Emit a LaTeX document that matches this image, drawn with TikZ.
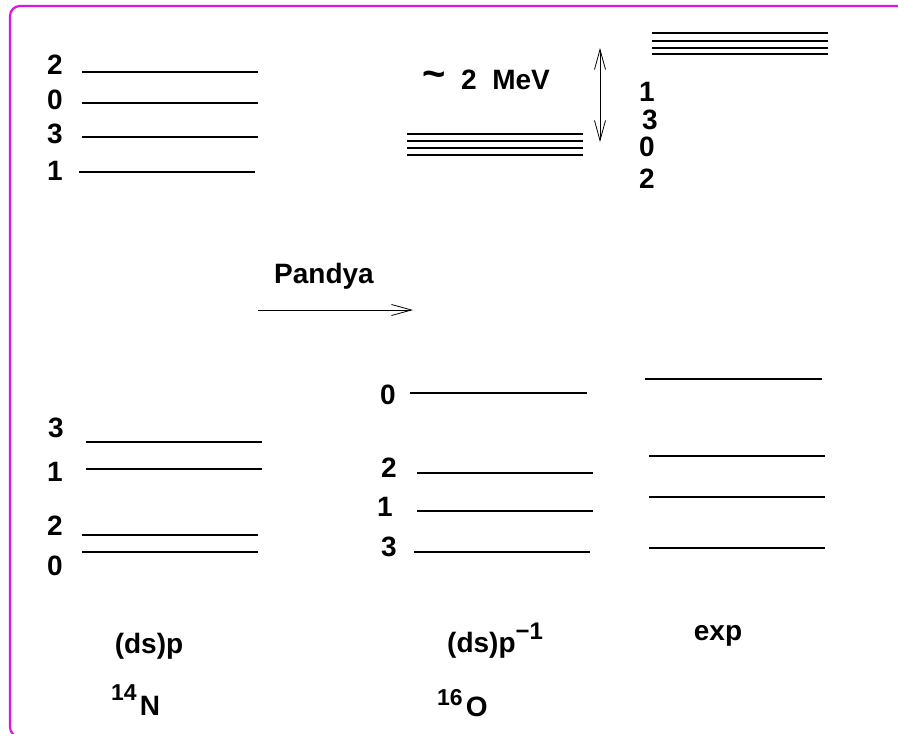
\documentclass[tikz,border=0pt]{standalone}
\usepackage{fontspec}
\setmainfont{Liberation Sans}
\usetikzlibrary{arrows.meta}
\definecolor{framemag}{RGB}{224,20,224}
\begin{document}
\begin{tikzpicture}[x=1pt,y=-1pt,
  lvl/.style={line width=2pt},
  lab/.style={inner sep=0pt, font=\fontsize{28}{32}\selectfont\bfseries},
  suplab/.style={font=\fontsize{23}{23}\selectfont\bfseries},
  barb/.tip={Straight Barb[length=20pt,width=11pt,line width=0.8pt]},
  thinarrow/.style={line width=0.8pt}]
\useasboundingbox (0,0) rectangle (898,734);
\clip (0,0) rectangle (898,734);
\draw[framemag, line width=2.2pt, rounded corners=10pt] (10,6) rectangle (930,737);

% top-left group
\foreach \y/\a/\b in {72/82/258, 103/82/258, 137/82/258, 172/79/255}
  \draw[lvl] (\a,\y) -- (\b,\y);
\node[lab] (tl2) at (55,65) {2};
\node[lab] (tl0) at (55,100) {0};
\node[lab] (tl3) at (55,134) {3};
\node[lab] (tl1) at (55,171) {1};

% top-middle group
\foreach \y in {134,141,148,155}
  \draw[lvl] (407,\y) -- (583,\y);

% top-right group
\foreach \y in {33.3,40.7,47.7,54.3}
  \draw[lvl] (652,\y) -- (828,\y);
\node[lab] (tr1) at (647,92) {1};
\node[lab] (tr3) at (650,120) {3};
\node[lab] (tr0) at (647,147) {0};
\node[lab] (tr2) at (647,179) {2};

% energy gap arrow
\coordinate (gapTop) at (600,48);
\coordinate (gapBot) at (600,142);
\draw[thinarrow, barb-barb] (gapBot) -- (gapTop);
\node[inner sep=0pt, anchor=base, font=\fontsize{40}{40}\selectfont\bfseries] (tilde) at (434,87) {\char"7E};
\node[lab, anchor=base west] (mev) at (461,89) {2\ \ MeV};

% Pandya arrow
\node[lab, anchor=base] (pandya) at (324,283) {Pandya};
\coordinate (pStart) at (258,310);
\coordinate (pEnd) at (413,310);
\draw[thinarrow, -barb] (pStart) -- (pEnd);

% bottom-left group
\foreach \y/\a/\b in {442/86/262, 469/86/262, 535/82/258, 552/82/258}
  \draw[lvl] (\a,\y) -- (\b,\y);
\node[lab] (bl3) at (56,428) {3};
\node[lab] (bl1) at (55,472) {1};
\node[lab] (bl2) at (55,526) {2};
\node[lab] (bl0) at (55,566) {0};

% bottom-middle group
\foreach \y/\a/\b in {393/410/587, 473/417/593, 511/417/593, 552/414/590}
  \draw[lvl] (\a,\y) -- (\b,\y);
\node[lab] (bm0) at (388,395) {0};
\node[lab] (bm2) at (389,468) {2};
\node[lab] (bm1) at (385,507) {1};
\node[lab] (bm3) at (389,547) {3};

% bottom-right group (exp)
\foreach \y/\a/\b in {379/645/822, 456/649/825, 497/649/825, 548/649/825}
  \draw[lvl] (\a,\y) -- (\b,\y);

% captions
\node[lab, anchor=base] (dsp) at (149,653) {(ds)p};
\node[lab, anchor=base west] (dspinv) at (447,652) {(ds)p\raisebox{13pt}{\fontsize{24}{24}\selectfont −1}};
\node[lab, anchor=base] (expl) at (718,640) {exp};
\node[lab, anchor=base west] (n14) at (111,715) {\raisebox{15pt}{\fontsize{23}{23}\selectfont 14}\kern3pt N};
\node[lab, anchor=base west] (o16) at (437,716) {\raisebox{11pt}{\fontsize{23}{23}\selectfont 16}\kern3pt O};
\end{tikzpicture}
\end{document}
